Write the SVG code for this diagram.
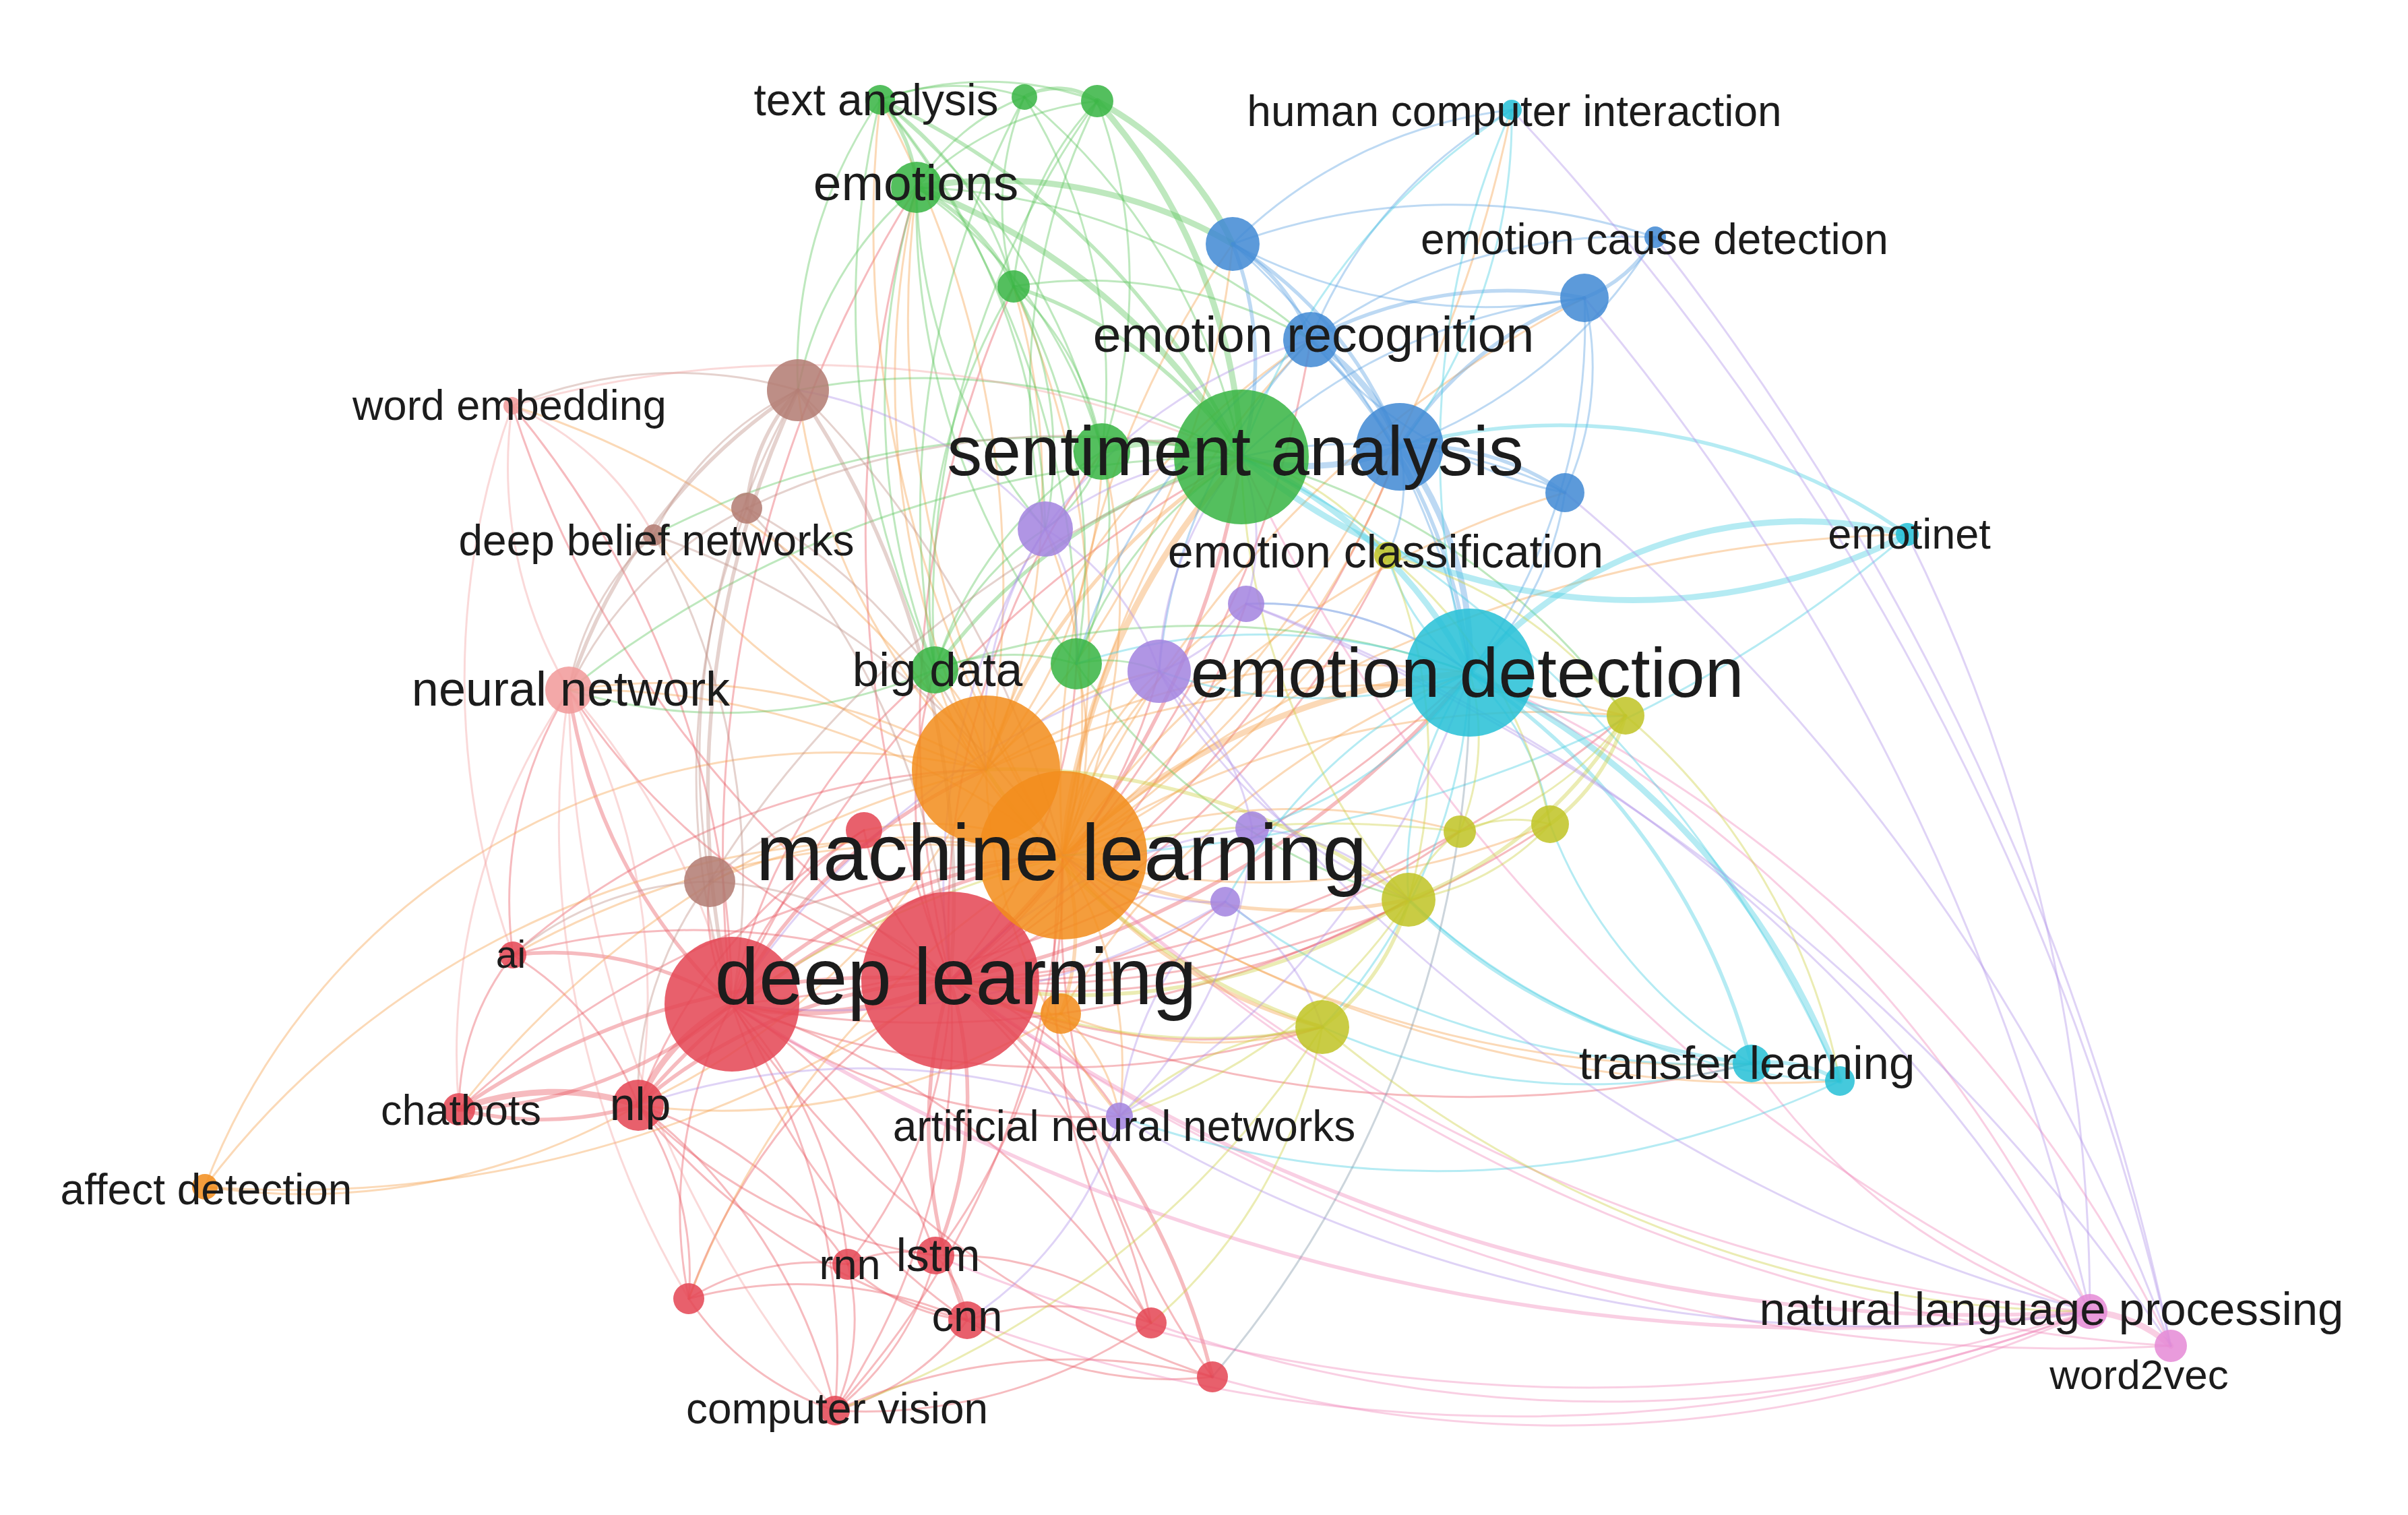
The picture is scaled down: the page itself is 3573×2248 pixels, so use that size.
<svg xmlns="http://www.w3.org/2000/svg" width="3573" height="2248" viewBox="0 0 3573 2248">
<style>
#edges path{fill:none;stroke-width:3;opacity:.4;stroke-linecap:round}
#edges path.t2{stroke-width:5.5}
#edges path.t3{stroke-width:9}
.er path{stroke:#e8545e}
.epk path{stroke:#ef86b8}
.eo path{stroke:#f5a04a}
.eg path{stroke:#5cc65c}
.eb path{stroke:#5a9fe0}
.ec path{stroke:#45cde0}
.egr path{stroke:#7f95a8}
.ey path{stroke:#cdd040}
.ep path{stroke:#b090e8}
.ebr path{stroke:#bf8f85}
.elp path{stroke:#f3a0a0}
circle{fill-opacity:.86}
.red{fill:#e44654}.org{fill:#f28d1c}.grn{fill:#38b443}.blu{fill:#4189d4}.cyn{fill:#26c0d6}
.yel{fill:#c0c425}.pur{fill:#a383e0}.brn{fill:#b27c72}.lpk{fill:#f19a9a}.pnk{fill:#e58ad6}
text{font-family:"Liberation Sans",Arial,Helvetica,sans-serif;fill:#1c1c1c;text-anchor:middle}
</style>
<rect width="3573" height="2248" fill="#ffffff"/>
<g id="edges">
<g class="er">
<path class="t3" d="M1410 1455A500 500 0 0 1 1086 1490"/>
<path d="M1410 1455A1000 1000 0 0 0 761 1417"/>
<path class="t2" d="M1410 1455A1100 1100 0 0 0 681 1646"/>
<path class="t2" d="M1410 1455A750 750 0 0 0 947 1640"/>
<path d="M1410 1455A700 700 0 0 1 1258 1876"/>
<path class="t2" d="M1410 1455A600 600 0 0 1 1388 1863"/>
<path class="t2" d="M1410 1455A750 750 0 0 0 1435 1959"/>
<path d="M1410 1455A1000 1000 0 0 1 1239 2093"/>
<path d="M1410 1455A900 900 0 0 0 1022 1927"/>
<path d="M1410 1455A900 900 0 0 1 1708 1963"/>
<path class="t2" d="M1410 1455A1050 1050 0 0 1 1799 2043"/>
<path d="M1410 1455A400 400 0 0 1 1282 1232"/>
<path d="M1410 1455A1050 1050 0 0 1 844 1024"/>
<path d="M1410 1455A1600 1600 0 0 1 760 602"/>
<path class="t2" d="M1410 1455A1300 1300 0 0 0 1842 678"/>
<path class="t2" d="M1410 1455A1350 1350 0 0 0 2181 998"/>
<path d="M1410 1455A1000 1000 0 0 0 2090 1335"/>
<path d="M1410 1455A850 850 0 0 0 1962 1524"/>
<path d="M1410 1455A1800 1800 0 0 0 2599 1578"/>
<path d="M1410 1455A500 500 0 0 1 1661 1656"/>
<path d="M1410 1455A700 700 0 0 1 1387 994"/>
<path d="M1410 1455A1800 1800 0 0 1 1360 278"/>
<path d="M1410 1455A750 750 0 0 0 1597 985"/>
<path d="M1410 1455A850 850 0 0 0 1720 996"/>
<path d="M1410 1455A1200 1200 0 0 0 2166 1234"/>
<path d="M1410 1455A1400 1400 0 0 0 2300 1223"/>
<path d="M1410 1455A1700 1700 0 0 0 2412 1062"/>
<path d="M1410 1455A650 650 0 0 0 1818 1338"/>
<path d="M1410 1455A1600 1600 0 0 0 1945 504"/>
<path d="M1410 1455A1600 1600 0 0 0 2077 663"/>
<path d="M1410 1455A1200 1200 0 0 1 1635 670"/>
<path d="M1410 1455A1600 1600 0 0 1 1504 425"/>
<path d="M1410 1455A1100 1100 0 0 0 1849 896"/>
<path d="M1410 1455A1300 1300 0 0 0 2059 824"/>
<path class="t3" d="M1086 1490A300 300 0 0 0 947 1640"/>
<path class="t2" d="M1086 1490A650 650 0 0 1 681 1646"/>
<path class="t2" d="M1086 1490A500 500 0 0 0 761 1417"/>
<path d="M1086 1490A950 950 0 0 1 1239 2093"/>
<path d="M1086 1490A650 650 0 0 0 1022 1927"/>
<path d="M1086 1490A650 650 0 0 1 1258 1876"/>
<path d="M1086 1490A700 700 0 0 1 1388 1863"/>
<path d="M1086 1490A900 900 0 0 0 1435 1959"/>
<path class="t2" d="M1086 1490A800 800 0 0 1 844 1024"/>
<path d="M1086 1490A1700 1700 0 0 1 1842 678"/>
<path d="M1086 1490A1800 1800 0 0 0 2181 998"/>
<path d="M1086 1490A300 300 0 0 1 1053 1308"/>
<path d="M1086 1490A1400 1400 0 0 0 760 602"/>
<path d="M1086 1490A1350 1350 0 0 0 1799 2043"/>
<path d="M1086 1490A1150 1150 0 0 1 1708 1963"/>
<path class="t2" d="M1086 1490A800 800 0 0 1 1577 1269"/>
<path class="t2" d="M1086 1490A800 800 0 0 1 1463 1142"/>
<path d="M1086 1490A850 850 0 0 1 1387 994"/>
<path d="M1086 1490A1500 1500 0 0 0 2090 1335"/>
<path d="M1086 1490A1300 1300 0 0 0 1962 1524"/>
<path d="M1086 1490A1850 1850 0 0 1 1360 278"/>
<path d="M1086 1490A900 900 0 0 0 1661 1656"/>
<path d="M1086 1490A450 450 0 0 1 1282 1232"/>
<path d="M761 1417A450 450 0 0 1 947 1640"/>
<path d="M761 1417A370 370 0 0 0 681 1646"/>
<path d="M761 1417A1100 1100 0 0 1 1463 1142"/>
<path d="M761 1417A600 600 0 0 1 844 1024"/>
<path class="t3" d="M681 1646A400 400 0 0 1 947 1640"/>
<path class="t2" d="M681 1646A500 500 0 0 0 947 1640"/>
<path d="M681 1646A1450 1450 0 0 1 1577 1269"/>
<path d="M947 1640A600 600 0 0 1 1258 1876"/>
<path d="M947 1640A750 750 0 0 0 1388 1863"/>
<path d="M947 1640A900 900 0 0 0 1435 1959"/>
<path d="M947 1640A800 800 0 0 1 1239 2093"/>
<path d="M947 1640A450 450 0 0 1 1022 1927"/>
<path class="t2" d="M947 1640A1100 1100 0 0 1 1577 1269"/>
<path d="M947 1640A800 800 0 0 1 1282 1232"/>
<path d="M1258 1876A200 200 0 0 1 1388 1863"/>
<path d="M1258 1876A300 300 0 0 0 1435 1959"/>
<path d="M1258 1876A330 330 0 0 1 1239 2093"/>
<path d="M1388 1863A170 170 0 0 1 1435 1959"/>
<path d="M1388 1863A420 420 0 0 1 1239 2093"/>
<path d="M1388 1863A500 500 0 0 1 1708 1963"/>
<path d="M1388 1863A950 950 0 0 0 1577 1269"/>
<path d="M1435 1959A360 360 0 0 1 1239 2093"/>
<path d="M1435 1959A420 420 0 0 1 1708 1963"/>
<path d="M1435 1959A560 560 0 0 0 1799 2043"/>
<path d="M1435 1959A620 620 0 0 0 1022 1927"/>
<path d="M1022 1927A420 420 0 0 0 1239 2093"/>
<path d="M1799 2043A850 850 0 0 0 1239 2093"/>
<path d="M1708 1963A750 750 0 0 1 1239 2093"/>
<path d="M1022 1927A360 360 0 0 1 1258 1876"/>
<path d="M1708 1963A1050 1050 0 0 1 1577 1269"/>
<path d="M1799 2043A1200 1200 0 0 1 1577 1269"/>
<path d="M1239 2093A1300 1300 0 0 0 1577 1269"/>
</g>
<g class="epk">
<path class="t2" d="M1410 1455A2600 2600 0 0 0 3101 1946"/>
<path class="t2" d="M1086 1490A3000 3000 0 0 0 3101 1946"/>
<path d="M1577 1269A2500 2500 0 0 0 3101 1946"/>
<path d="M1435 1959A2400 2400 0 0 0 3101 1946"/>
<path d="M1388 1863A2500 2500 0 0 0 3101 1946"/>
<path d="M1799 2043A1900 1900 0 0 0 3101 1946"/>
<path d="M1708 1963A2000 2000 0 0 0 3101 1946"/>
<path d="M2181 998A2000 2000 0 0 1 3101 1946"/>
<path d="M1842 678A2600 2600 0 0 0 3101 1946"/>
<path class="t3" d="M3101 1946A200 200 0 0 1 3221 1997"/>
<path d="M1410 1455A2800 2800 0 0 0 3221 1997"/>
<path d="M1577 1269A2600 2600 0 0 0 3221 1997"/>
<path d="M2181 998A2100 2100 0 0 1 3221 1997"/>
<path d="M2599 1578A950 950 0 0 0 3101 1946"/>
</g>
<g class="eo">
<path class="t3" d="M1577 1269A1000 1000 0 0 1 1842 678"/>
<path class="t3" d="M1577 1269A1000 1000 0 0 1 2181 998"/>
<path class="t2" d="M1577 1269A800 800 0 0 0 2090 1335"/>
<path class="t2" d="M1577 1269A700 700 0 0 0 1962 1524"/>
<path d="M1577 1269A1300 1300 0 0 1 2412 1062"/>
<path d="M1577 1269A1100 1100 0 0 0 2300 1223"/>
<path d="M1577 1269A1600 1600 0 0 0 2599 1578"/>
<path d="M1577 1269A1800 1800 0 0 0 2730 1604"/>
<path d="M1577 1269A1150 1150 0 0 0 844 1024"/>
<path d="M1577 1269A500 500 0 0 1 1387 994"/>
<path d="M1577 1269A1300 1300 0 0 1 1945 504"/>
<path d="M1577 1269A1200 1200 0 0 0 2077 663"/>
<path d="M1577 1269A460 460 0 0 1 1720 996"/>
<path d="M1577 1269A600 600 0 0 1 1661 1656"/>
<path d="M1577 1269A1500 1500 0 0 1 1360 278"/>
<path d="M1577 1269A1300 1300 0 0 0 1504 425"/>
<path d="M1577 1269A1700 1700 0 0 1 1306 148"/>
<path d="M1577 1269A1900 1900 0 0 0 2243 163"/>
<path d="M1577 1269A2000 2000 0 0 1 2830 793"/>
<path d="M1577 1269A1250 1250 0 0 0 761 1417"/>
<path class="t2" d="M1577 1269A350 350 0 0 1 1574 1504"/>
<path d="M1577 1269A900 900 0 0 1 2166 1234"/>
<path d="M1577 1269A1000 1000 0 0 0 2059 824"/>
<path d="M1577 1269A430 430 0 0 0 1597 985"/>
<path d="M1577 1269A900 900 0 0 0 1635 670"/>
<path d="M1577 1269A660 660 0 0 1 1849 896"/>
<path d="M1577 1269A740 740 0 0 0 1551 785"/>
<path d="M1577 1269A1400 1400 0 0 1 1829 362"/>
<path d="M1577 1269A1700 1700 0 0 1 2351 442"/>
<path d="M1577 1269A1400 1400 0 0 1 2322 731"/>
<path d="M1577 1269A450 450 0 0 0 1282 1232"/>
<path d="M1577 1269A800 800 0 0 0 1053 1308"/>
<path d="M1577 1269A1300 1300 0 0 0 1022 1927"/>
<path class="t2" d="M1463 1142A900 900 0 0 1 1842 678"/>
<path d="M1463 1142A250 250 0 0 0 1387 994"/>
<path d="M1463 1142A1100 1100 0 0 1 2181 998"/>
<path d="M1463 1142A950 950 0 0 0 844 1024"/>
<path d="M1463 1142A1300 1300 0 0 0 760 602"/>
<path d="M1463 1142A950 950 0 0 1 1184 579"/>
<path d="M1463 1142A750 750 0 0 0 1635 670"/>
<path d="M1463 1142A1300 1300 0 0 1 1360 278"/>
<path d="M1463 1142A1300 1300 0 0 0 1829 362"/>
<path d="M1463 1142A1100 1100 0 0 1 947 1640"/>
<path d="M1463 1142A1400 1400 0 0 0 681 1646"/>
<path d="M1463 1142A900 900 0 0 1 970 794"/>
<path d="M1463 1142A1450 1450 0 0 1 2412 1062"/>
<path d="M1463 1142A450 450 0 0 1 1720 996"/>
<path d="M1463 1142A830 830 0 0 0 1661 1656"/>
<path d="M1463 1142A1200 1200 0 0 1 1945 504"/>
<path d="M1463 1142A1500 1500 0 0 0 1306 148"/>
<path d="M1463 1142A1080 1080 0 0 0 1504 425"/>
<path d="M304 1761A1000 1000 0 0 1 1463 1142"/>
<path d="M304 1761A1300 1300 0 0 1 1577 1269"/>
<path d="M304 1761A1000 1000 0 0 0 947 1640"/>
<path d="M304 1761A1700 1700 0 0 0 1410 1455"/>
<path d="M1574 1504A600 600 0 0 0 1962 1524"/>
<path d="M1574 1504A260 260 0 0 1 1661 1656"/>
<path d="M1574 1504A950 950 0 0 1 947 1640"/>
<path d="M1574 1504A1200 1200 0 0 1 2181 998"/>
<path d="M1574 1504A260 260 0 0 1 1410 1455"/>
</g>
<g class="eg">
<path class="t3" d="M1360 278A950 950 0 0 1 1842 678"/>
<path class="t2" d="M1306 148A1100 1100 0 0 1 1842 678"/>
<path d="M1520 144A950 950 0 0 1 1842 678"/>
<path class="t3" d="M1628 150A850 850 0 0 1 1842 678"/>
<path class="t2" d="M1504 425A650 650 0 0 1 1842 678"/>
<path class="t2" d="M1387 994A850 850 0 0 1 1842 678"/>
<path d="M1597 985A600 600 0 0 1 1842 678"/>
<path class="t3" d="M1635 670A320 320 0 0 1 1842 678"/>
<path d="M1184 579A1000 1000 0 0 1 1842 678"/>
<path d="M844 1024A1600 1600 0 0 1 1842 678"/>
<path d="M970 794A1300 1300 0 0 1 1842 678"/>
<path d="M1842 678A1000 1000 0 0 1 2412 1062"/>
<path class="t2" d="M1360 278A220 220 0 0 0 1306 148"/>
<path d="M1360 278A320 320 0 0 1 1520 144"/>
<path d="M1360 278A450 450 0 0 1 1628 150"/>
<path class="t2" d="M1360 278A320 320 0 0 1 1504 425"/>
<path class="t3" d="M1360 278A700 700 0 0 1 1829 362"/>
<path d="M1360 278A1100 1100 0 0 0 1387 994"/>
<path d="M1360 278A1100 1100 0 0 0 1597 985"/>
<path d="M1360 278A950 950 0 0 1 1945 504"/>
<path d="M1360 278A700 700 0 0 1 1635 670"/>
<path d="M1360 278A800 800 0 0 0 1551 785"/>
<path d="M1360 278A520 520 0 0 0 1184 579"/>
<path d="M1306 148A320 320 0 0 1 1520 144"/>
<path d="M1306 148A480 480 0 0 1 1628 150"/>
<path d="M1306 148A500 500 0 0 1 1504 425"/>
<path d="M1306 148A1300 1300 0 0 0 1387 994"/>
<path d="M1306 148A950 950 0 0 1 1635 670"/>
<path d="M1306 148A1300 1300 0 0 1 1597 985"/>
<path d="M1306 148A1000 1000 0 0 1 1551 785"/>
<path d="M1306 148A700 700 0 0 0 1184 579"/>
<path class="t2" d="M1520 144A100 100 0 0 1 1628 150"/>
<path d="M1520 144A420 420 0 0 0 1504 425"/>
<path d="M1520 144A800 800 0 0 1 1635 670"/>
<path d="M1520 144A1300 1300 0 0 0 1387 994"/>
<path d="M1628 150A450 450 0 0 0 1504 425"/>
<path class="t3" d="M1628 150A450 450 0 0 1 1829 362"/>
<path d="M1628 150A780 780 0 0 1 1635 670"/>
<path d="M1628 150A1300 1300 0 0 0 1387 994"/>
<path d="M1628 150A960 960 0 0 0 1551 785"/>
<path d="M1504 425A420 420 0 0 1 1635 670"/>
<path d="M1504 425A870 870 0 0 0 1387 994"/>
<path d="M1504 425A850 850 0 0 1 1597 985"/>
<path d="M1504 425A540 540 0 0 1 1551 785"/>
<path d="M1504 425A670 670 0 0 1 1945 504"/>
<path d="M1387 994A320 320 0 0 1 1597 985"/>
<path d="M1387 994A600 600 0 0 1 1635 670"/>
<path d="M1387 994A400 400 0 0 1 1551 785"/>
<path d="M1387 994A800 800 0 0 1 844 1024"/>
<path d="M1387 994A1200 1200 0 0 1 2181 998"/>
<path d="M1635 670A480 480 0 0 1 1597 985"/>
<path d="M1635 670A220 220 0 0 1 1551 785"/>
<path d="M1597 985A200 200 0 0 1 1720 996"/>
<path d="M1597 985A880 880 0 0 0 2090 1335"/>
</g>
<g class="eb">
<path class="t2" d="M1829 362A280 280 0 0 1 1945 504"/>
<path class="t2" d="M1829 362A600 600 0 0 1 2077 663"/>
<path d="M1829 362A700 700 0 0 1 2243 163"/>
<path d="M1829 362A950 950 0 0 1 2456 352"/>
<path d="M1829 362A800 800 0 0 0 2351 442"/>
<path class="t2" d="M1829 362A480 480 0 0 1 1842 678"/>
<path d="M1829 362A1100 1100 0 0 1 2181 998"/>
<path class="t2" d="M1945 504A620 620 0 0 1 2351 442"/>
<path class="t3" d="M1945 504A320 320 0 0 1 2077 663"/>
<path d="M1945 504A660 660 0 0 0 2322 731"/>
<path d="M1945 504A800 800 0 0 1 2456 352"/>
<path d="M1945 504A680 680 0 0 1 2243 163"/>
<path class="t2" d="M1945 504A820 820 0 0 1 2181 998"/>
<path d="M1945 504A800 800 0 0 0 1720 996"/>
<path d="M1945 504A900 900 0 0 0 1597 985"/>
<path class="t2" d="M2351 442A210 210 0 0 0 2456 352"/>
<path class="t2" d="M2351 442A530 530 0 0 0 2077 663"/>
<path d="M2351 442A440 440 0 0 1 2322 731"/>
<path d="M2351 442A870 870 0 0 1 2181 998"/>
<path d="M2351 442A850 850 0 0 0 1842 678"/>
<path class="t2" d="M2077 663A380 380 0 0 1 2322 731"/>
<path class="t3" d="M2077 663A530 530 0 0 1 2181 998"/>
<path class="t3" d="M2077 663A350 350 0 0 1 1842 678"/>
<path d="M2077 663A250 250 0 0 1 2059 824"/>
<path d="M2322 731A450 450 0 0 1 2181 998"/>
<path d="M2322 731A720 720 0 0 0 1842 678"/>
<path d="M2456 352A740 740 0 0 1 2077 663"/>
</g>
<g class="ec">
<path d="M2181 998A1250 1250 0 0 1 2243 163"/>
<path class="t3" d="M2181 998A650 650 0 0 1 2830 793"/>
<path class="t2" d="M2181 998A1000 1000 0 0 1 2599 1578"/>
<path class="t3" d="M2181 998A1100 1100 0 0 1 2730 1604"/>
<path d="M2181 998A360 360 0 0 0 2412 1062"/>
<path d="M2181 998A380 380 0 0 1 2300 1223"/>
<path d="M2181 998A520 520 0 0 0 2090 1335"/>
<path class="t3" d="M2181 998A700 700 0 0 0 1842 678"/>
<path d="M2181 998A700 700 0 0 1 1720 996"/>
<path d="M2181 998A520 520 0 0 0 1849 896"/>
<path d="M2181 998A880 880 0 0 0 1597 985"/>
<path d="M2181 998A320 320 0 0 1 2059 824"/>
<path d="M2181 998A600 600 0 0 1 1858 1229"/>
<path d="M2181 998A820 820 0 0 1 1962 1524"/>
<path d="M2181 998A800 800 0 0 0 1818 1338"/>
<path d="M2243 163A1000 1000 0 0 0 1842 678"/>
<path d="M2243 163A800 800 0 0 1 2077 663"/>
<path class="t3" d="M2830 793A900 900 0 0 1 1842 678"/>
<path class="t2" d="M2077 663A900 900 0 0 1 2830 793"/>
<path d="M2830 793A2000 2000 0 0 1 1577 1269"/>
<path class="t2" d="M2599 1578A200 200 0 0 1 2730 1604"/>
<path d="M1962 1524A960 960 0 0 0 2599 1578"/>
<path class="t2" d="M2090 1335A850 850 0 0 0 2599 1578"/>
<path d="M1818 1338A1200 1200 0 0 0 2599 1578"/>
<path d="M1661 1656A1400 1400 0 0 0 2730 1604"/>
<path d="M2090 1335A1000 1000 0 0 0 2730 1604"/>
<path d="M1842 678A1900 1900 0 0 1 2730 1604"/>
<path d="M2300 1223A700 700 0 0 0 2599 1578"/>
</g>
<g class="egr">
<path d="M2181 998A1600 1600 0 0 1 1799 2043"/>
</g>
<g class="ey">
<path d="M2059 824A640 640 0 0 1 2412 1062"/>
<path d="M2059 824A770 770 0 0 1 2090 1335"/>
<path d="M2059 824A400 400 0 0 0 1842 678"/>
<path d="M2059 824A700 700 0 0 1 2300 1223"/>
<path class="t2" d="M2412 1062A300 300 0 0 1 2300 1223"/>
<path d="M2412 1062A450 450 0 0 1 2166 1234"/>
<path class="t2" d="M2412 1062A640 640 0 0 1 2090 1335"/>
<path d="M2412 1062A950 950 0 0 1 2730 1604"/>
<path class="t2" d="M2090 1335A350 350 0 0 1 1962 1524"/>
<path d="M2090 1335A360 360 0 0 0 2300 1223"/>
<path d="M2090 1335A200 200 0 0 1 2166 1234"/>
<path d="M2090 1335A1050 1050 0 0 1 1842 678"/>
<path class="t2" d="M2090 1335A1000 1000 0 0 0 1463 1142"/>
<path d="M2090 1335A800 800 0 0 1 1661 1656"/>
<path d="M1962 1524A500 500 0 0 0 1661 1656"/>
<path class="t2" d="M1962 1524A950 950 0 0 1 1463 1142"/>
<path d="M1962 1524A1400 1400 0 0 1 1239 2093"/>
<path d="M1962 1524A760 760 0 0 1 1708 1963"/>
<path d="M1962 1524A1800 1800 0 0 0 3101 1946"/>
<path d="M2166 1234A200 200 0 0 1 2300 1223"/>
<path d="M2166 1234A360 360 0 0 0 2181 998"/>
<path d="M2166 1234A1600 1600 0 0 0 1086 1490"/>
<path class="t2" d="M2090 1335A900 900 0 0 1 1410 1455"/>
<path d="M1962 1524A900 900 0 0 1 1410 1455"/>
</g>
<g class="ep">
<path d="M1551 785A470 470 0 0 1 1842 678"/>
<path d="M1551 785A400 400 0 0 1 1720 996"/>
<path d="M1551 785A550 550 0 0 0 1463 1142"/>
<path d="M1551 785A1000 1000 0 0 0 1410 1455"/>
<path d="M1551 785A730 730 0 0 1 1945 504"/>
<path d="M1551 785A630 630 0 0 0 1184 579"/>
<path d="M1551 785A320 320 0 0 1 1597 985"/>
<path d="M1849 896A330 330 0 0 0 1842 678"/>
<path d="M1849 896A250 250 0 0 1 1720 996"/>
<path d="M1849 896A520 520 0 0 1 2181 998"/>
<path d="M1720 996A520 520 0 0 1 1842 678"/>
<path d="M1720 996A400 400 0 0 1 1858 1229"/>
<path d="M1720 996A760 760 0 0 0 2090 1335"/>
<path d="M1720 996A1200 1200 0 0 0 1086 1490"/>
<path d="M1858 1229A380 380 0 0 1 2090 1335"/>
<path d="M1858 1229A650 650 0 0 1 1661 1656"/>
<path d="M1818 1338A350 350 0 0 1 1962 1524"/>
<path d="M1818 1338A530 530 0 0 0 1661 1656"/>
<path d="M1818 1338A1150 1150 0 0 1 1086 1490"/>
<path d="M1661 1656A1250 1250 0 0 0 2181 998"/>
<path d="M1661 1656A1050 1050 0 0 0 947 1640"/>
<path d="M1661 1656A2200 2200 0 0 0 3101 1946"/>
<path d="M1661 1656A540 540 0 0 1 1435 1959"/>
<path d="M1720 996A2500 2500 0 0 0 3101 1946"/>
<path d="M1849 896A2400 2400 0 0 1 3101 1946"/>
<path d="M2322 731A3000 3000 0 0 1 3221 1997"/>
<path d="M1849 896A3000 3000 0 0 1 3221 1997"/>
<path d="M2243 163A4000 4000 0 0 1 3221 1997"/>
<path d="M2351 442A3600 3600 0 0 1 3101 1946"/>
<path d="M2456 352A4000 4000 0 0 1 3221 1997"/>
<path d="M2830 793A2600 2600 0 0 1 3101 1946"/>
<path d="M1858 1229A750 750 0 0 0 1410 1455"/>
<path d="M1818 1338A380 380 0 0 1 1577 1269"/>
</g>
<g class="ebr">
<path d="M1184 579A640 640 0 0 0 760 602"/>
<path d="M1184 579A460 460 0 0 0 970 794"/>
<path class="t2" d="M1184 579A290 290 0 0 0 1108 754"/>
<path class="t2" d="M1184 579A840 840 0 0 0 844 1024"/>
<path class="t2" d="M1184 579A1400 1400 0 0 0 1086 1490"/>
<path class="t2" d="M1184 579A1350 1350 0 0 1 1410 1455"/>
<path d="M1184 579A1100 1100 0 0 0 1053 1308"/>
<path d="M1184 579A1500 1500 0 0 1 1577 1269"/>
<path d="M1108 754A570 570 0 0 0 844 1024"/>
<path d="M1108 754A1100 1100 0 0 1 1410 1455"/>
<path d="M1108 754A1100 1100 0 0 0 1086 1490"/>
<path d="M1108 754A1100 1100 0 0 1 1842 678"/>
<path d="M1108 754A800 800 0 0 1 1463 1142"/>
<path d="M970 794A1050 1050 0 0 1 1086 1490"/>
<path d="M970 794A400 400 0 0 0 844 1024"/>
<path d="M970 794A1200 1200 0 0 1 1577 1269"/>
<path d="M1053 1308A580 580 0 0 1 1410 1455"/>
<path d="M1053 1308A650 650 0 0 1 1463 1142"/>
<path d="M1053 1308A520 520 0 0 0 947 1640"/>
<path d="M1053 1308A1500 1500 0 0 1 1842 678"/>
<path d="M1053 1308A470 470 0 0 0 761 1417"/>
</g>
<g class="elp">
<path d="M760 602A650 650 0 0 0 844 1024"/>
<path d="M760 602A430 430 0 0 1 970 794"/>
<path d="M760 602A1200 1200 0 0 0 761 1417"/>
<path d="M760 602A1600 1600 0 0 1 1842 678"/>
<path d="M844 1024A960 960 0 0 0 681 1646"/>
<path d="M844 1024A940 940 0 0 1 947 1640"/>
<path d="M844 1024A1380 1380 0 0 0 1022 1927"/>
<path d="M844 1024A1700 1700 0 0 0 1239 2093"/>
<path d="M844 1024A1100 1100 0 0 1 1086 1490"/>
</g>
</g>
<g id="nodes">
<g id="n-red-1"><circle class="red" cx="1086" cy="1490" r="100"/></g>
<g id="n-orange-1"><circle class="org" cx="1463" cy="1142" r="110"/></g>
<g id="n-red-2"><circle class="red" cx="1282" cy="1232" r="27"/></g>
<g id="n-red-3"><circle class="red" cx="1022" cy="1927" r="23"/></g>
<g id="n-red-4"><circle class="red" cx="1708" cy="1963" r="23"/></g>
<g id="n-red-5"><circle class="red" cx="1799" cy="2043" r="23"/></g>
<g id="n-orange-2"><circle class="org" cx="1574" cy="1504" r="30"/></g>
<g id="n-green-1"><circle class="grn" cx="1635" cy="670" r="42"/></g>
<g id="n-green-2"><circle class="grn" cx="1520" cy="144" r="19"/></g>
<g id="n-green-3"><circle class="grn" cx="1628" cy="150" r="24"/></g>
<g id="n-green-4"><circle class="grn" cx="1504" cy="425" r="24"/></g>
<g id="n-green-5"><circle class="grn" cx="1597" cy="985" r="38"/></g>
<g id="n-blue-1"><circle class="blu" cx="1829" cy="362" r="40"/></g>
<g id="n-blue-2"><circle class="blu" cx="2351" cy="442" r="36"/></g>
<g id="n-blue-3"><circle class="blu" cx="2077" cy="663" r="65"/></g>
<g id="n-blue-4"><circle class="blu" cx="2322" cy="731" r="29"/></g>
<g id="n-yellow-1"><circle class="yel" cx="2412" cy="1062" r="28"/></g>
<g id="n-yellow-2"><circle class="yel" cx="2166" cy="1234" r="24"/></g>
<g id="n-yellow-3"><circle class="yel" cx="2300" cy="1223" r="28"/></g>
<g id="n-yellow-4"><circle class="yel" cx="2090" cy="1335" r="40"/></g>
<g id="n-yellow-5"><circle class="yel" cx="1962" cy="1524" r="40"/></g>
<g id="n-purple-1"><circle class="pur" cx="1551" cy="785" r="41"/></g>
<g id="n-purple-2"><circle class="pur" cx="1849" cy="896" r="27"/></g>
<g id="n-purple-3"><circle class="pur" cx="1720" cy="996" r="47"/></g>
<g id="n-purple-4"><circle class="pur" cx="1858" cy="1229" r="25"/></g>
<g id="n-purple-5"><circle class="pur" cx="1818" cy="1338" r="22"/></g>
<g id="n-cyan-1"><circle class="cyn" cx="2730" cy="1604" r="22"/></g>
<g id="n-brown-1"><circle class="brn" cx="1184" cy="579" r="46"/></g>
<g id="n-brown-2"><circle class="brn" cx="1108" cy="754" r="23"/></g>
<g id="n-brown-3"><circle class="brn" cx="1053" cy="1308" r="38"/></g>
<g id="n-deep-learning"><circle class="red" cx="1410" cy="1455" r="132"/><text x="1418" y="1490" font-size="118">deep learning</text></g>
<g id="n-machine-learning"><circle class="org" cx="1577" cy="1269" r="125"/><text x="1575" y="1306" font-size="119">machine learning</text></g>
<g id="n-sentiment-analysis"><circle class="grn" cx="1842" cy="678" r="100"/><text x="1833" y="705" font-size="104">sentiment analysis</text></g>
<g id="n-emotion-detection"><circle class="cyn" cx="2181" cy="998" r="95"/><text x="2177" y="1034" font-size="104">emotion detection</text></g>
<g id="n-emotion-recognition"><circle class="blu" cx="1945" cy="504" r="41"/><text x="1949" y="522" font-size="75">emotion recognition</text></g>
<g id="n-emotions"><circle class="grn" cx="1360" cy="278" r="38"/><text x="1359" y="297" font-size="75">emotions</text></g>
<g id="n-nlp"><circle class="red" cx="947" cy="1640" r="38"/><text x="950" y="1662" font-size="68">nlp</text></g>
<g id="n-big-data"><circle class="grn" cx="1387" cy="994" r="35"/><text x="1391" y="1018" font-size="71">big data</text></g>
<g id="n-neural-network"><circle class="lpk" cx="844" cy="1024" r="35"/><text x="847" y="1047" font-size="72">neural network</text></g>
<g id="n-transfer-learning"><circle class="cyn" cx="2599" cy="1578" r="28"/><text x="2592" y="1601" font-size="69">transfer learning</text></g>
<g id="n-lstm"><circle class="red" cx="1388" cy="1863" r="28"/><text x="1392" y="1886" font-size="68">lstm</text></g>
<g id="n-cnn"><circle class="red" cx="1435" cy="1959" r="28"/><text x="1435" y="1975" font-size="65">cnn</text></g>
<g id="n-natural-language-processing"><circle class="pnk" cx="3101" cy="1946" r="26"/><text x="3044" y="1966" font-size="69">natural language processing</text></g>
<g id="n-chatbots"><circle class="red" cx="681" cy="1646" r="24"/><text x="684" y="1669" font-size="63">chatbots</text></g>
<g id="n-word2vec"><circle class="pnk" cx="3221" cy="1997" r="24"/><text x="3174" y="2061" font-size="62">word2vec</text></g>
<g id="n-rnn"><circle class="red" cx="1258" cy="1876" r="23"/><text x="1261" y="1898" font-size="63">rnn</text></g>
<g id="n-text-analysis"><circle class="grn" cx="1306" cy="148" r="22"/><text x="1300" y="171" font-size="66">text analysis</text></g>
<g id="n-computer-vision"><circle class="red" cx="1239" cy="2093" r="22"/><text x="1242" y="2112" font-size="64">computer vision</text></g>
<g id="n-ai"><circle class="red" cx="761" cy="1417" r="20"/><text x="758" y="1436" font-size="57">ai</text></g>
<g id="n-emotion-classification"><circle class="yel" cx="2059" cy="824" r="20"/><text x="2056" y="842" font-size="68">emotion classification</text></g>
<g id="n-artificial-neural-networks"><circle class="pur" cx="1661" cy="1656" r="20"/><text x="1668" y="1693" font-size="64">artificial neural networks</text></g>
<g id="n-affect-detection"><circle class="org" cx="304" cy="1761" r="19"/><text x="306" y="1787" font-size="64">affect detection</text></g>
<g id="n-emotinet"><circle class="cyn" cx="2830" cy="793" r="17"/><text x="2833" y="814" font-size="63">emotinet</text></g>
<g id="n-emotion-cause-detection"><circle class="blu" cx="2456" cy="352" r="16"/><text x="2455" y="377" font-size="64">emotion cause detection</text></g>
<g id="n-deep-belief-networks"><circle class="brn" cx="970" cy="794" r="16"/><text x="974" y="824" font-size="64">deep belief networks</text></g>
<g id="n-human-computer-interaction"><circle class="cyn" cx="2243" cy="163" r="15"/><text x="2247" y="187" font-size="64">human computer interaction</text></g>
<g id="n-word-embedding"><circle class="lpk" cx="760" cy="602" r="13"/><text x="756" y="623" font-size="63">word embedding</text></g>
</g>
</svg>
